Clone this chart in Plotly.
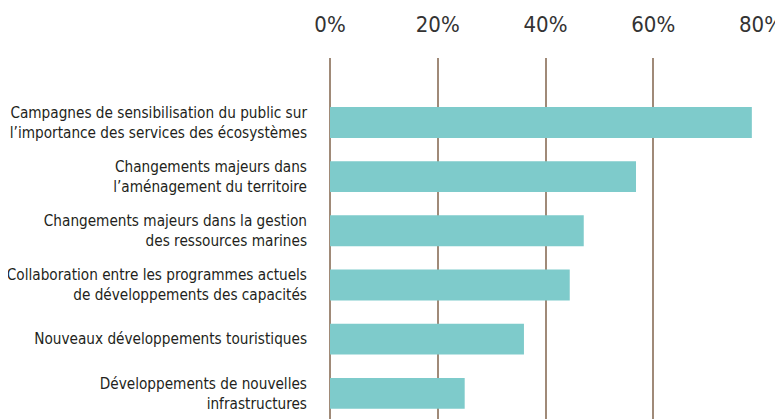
import plotly.graph_objects as go

categories = [
    "Campagnes de sensibilisation du public sur<br>l’importance des services des écosystèmes",
    "Changements majeurs dans<br>l’aménagement du territoire",
    "Changements majeurs dans la gestion<br>des ressources marines",
    "Collaboration entre les programmes actuels<br>de développements des capacités",
    "Nouveaux développements touristiques",
    "Développements de nouvelles<br>infrastructures",
]
values = [78.3, 56.8, 47.1, 44.5, 36.0, 25.0]
tick_vals = [0, 20, 40, 60, 80]
tick_text = ["0%", "20%", "40%", "60%", "80%"]

FONT = "DejaVu Sans Condensed, Liberation Sans Narrow, Arial Narrow, sans-serif"

fig = go.Figure(
    go.Bar(
        x=values,
        y=categories,
        orientation="h",
        marker=dict(color="#7ECBCB", line=dict(width=0)),
        hoverinfo="x+y",
    )
)

# page body has an 8px margin; figure size/margins compensate for it
fig.update_layout(
    width=775,
    height=411,
    margin=dict(l=322, r=22, t=50, b=0),
    paper_bgcolor="white",
    plot_bgcolor="white",
    bargap=0.43,
    showlegend=False,
    font=dict(family=FONT, color="#231f20"),
)

fig.update_xaxes(
    side="top",
    range=[0, 80],
    tickvals=tick_vals,
    ticktext=tick_text,
    tickfont=dict(family=FONT, size=22, color="#333333"),
    showgrid=True,
    gridcolor="#A08A78",
    gridwidth=1.5,
    zeroline=True,
    zerolinecolor="#A08A78",
    zerolinewidth=1.5,
    showline=False,
    ticks="",
    ticklabelstandoff=21,
    fixedrange=True,
)

fig.update_yaxes(
    type="category",
    categoryorder="array",
    categoryarray=categories,
    range=[5.474, -1.19],
    tickfont=dict(family=FONT, size=15.2, color="#231f20"),
    showgrid=False,
    zeroline=False,
    showline=False,
    ticks="",
    ticklabelstandoff=22,
    fixedrange=True,
)

fig.write_html("out.html")
